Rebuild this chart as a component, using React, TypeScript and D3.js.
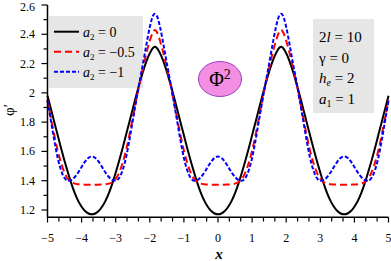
import React from "react";
import * as d3 from "d3";

const xs = [-5,-4.9,-4.8,-4.7,-4.6,-4.5,-4.4,-4.3,-4.2,-4.1,-4,-3.9,-3.8,-3.7,-3.6,-3.5,-3.4,-3.3,-3.2,-3.1,-3,-2.9,-2.8,-2.7,-2.6,-2.5,-2.4,-2.3,-2.2,-2.1,-2,-1.9,-1.85,-1.8,-1.7,-1.6,-1.5,-1.4,-1.3,-1.2,-1.1,-1,-0.9,-0.8,-0.7,-0.6,-0.5,-0.4,-0.3,-0.2,-0.1,0,0.1,0.2,0.3,0.4,0.5,0.6,0.7,0.8,0.9,1,1.1,1.2,1.3,1.4,1.5,1.6,1.7,1.8,1.85,1.9,2,2.1,2.2,2.3,2.4,2.5,2.6,2.7,2.8,2.9,3,3.1,3.2,3.3,3.4,3.5,3.6,3.7,3.8,3.9,4,4.1,4.2,4.3,4.4,4.5,4.6,4.7,4.8,4.9,5];

const black = [1.98,1.89,1.80,1.71,1.62,1.535,1.455,1.38,1.315,1.262,1.222,1.193,1.176,1.17,
1.176,1.193,1.222,1.262,1.315,1.38,1.455,1.535,1.62,1.71,1.80,1.89,1.98,2.065,2.145,2.215,2.27,2.308,
2.315,
2.308,2.27,2.215,2.145,2.065,1.98,1.89,1.80,1.71,1.62,1.535,1.455,1.38,1.315,1.262,1.222,1.193,1.176,
1.17,
1.176,1.193,1.222,1.262,1.315,1.38,1.455,1.535,1.62,1.71,1.80,1.89,1.98,2.065,2.145,2.215,2.27,2.308,
2.315,
2.308,2.27,2.215,2.145,2.065,1.98,1.89,1.80,1.71,1.62,1.535,1.455,1.38,1.315,1.262,1.222,1.193,1.176,
1.17,
1.176,1.193,1.222,1.262,1.315,1.38,1.455,1.535,1.62,1.71,1.80,1.89,1.98];

const red = [1.95,1.83,1.71,1.605,1.52,1.455,1.412,1.39,1.38,1.376,1.374,1.373,1.372,1.372,
1.372,1.373,1.374,1.376,1.38,1.39,1.412,1.455,1.52,1.605,1.71,1.83,1.95,2.065,2.17,2.27,2.355,2.418,
2.43,
2.418,2.355,2.27,2.17,2.065,1.95,1.83,1.71,1.605,1.52,1.455,1.412,1.39,1.38,1.376,1.374,1.373,1.372,
1.372,
1.372,1.373,1.374,1.376,1.38,1.39,1.412,1.455,1.52,1.605,1.71,1.83,1.95,2.065,2.17,2.27,2.355,2.418,
2.43,
2.418,2.355,2.27,2.17,2.065,1.95,1.83,1.71,1.605,1.52,1.455,1.412,1.39,1.38,1.376,1.374,1.373,1.372,
1.372,
1.372,1.373,1.374,1.376,1.38,1.39,1.412,1.455,1.52,1.605,1.71,1.83,1.95];

const blue = [1.945,1.81,1.675,1.555,1.47,1.418,1.40,1.405,1.425,1.456,1.494,1.53,1.556,1.565,
1.556,1.53,1.494,1.456,1.425,1.405,1.40,1.418,1.47,1.555,1.675,1.81,1.945,2.075,2.20,2.33,2.45,2.53,
2.54,
2.53,2.45,2.33,2.20,2.075,1.945,1.81,1.675,1.555,1.47,1.418,1.40,1.405,1.425,1.456,1.494,1.53,1.556,
1.565,
1.556,1.53,1.494,1.456,1.425,1.405,1.40,1.418,1.47,1.555,1.675,1.81,1.945,2.075,2.20,2.33,2.45,2.53,
2.54,
2.53,2.45,2.33,2.20,2.075,1.945,1.81,1.675,1.555,1.47,1.418,1.40,1.405,1.425,1.456,1.494,1.53,1.556,
1.565,
1.556,1.53,1.494,1.456,1.425,1.405,1.40,1.418,1.47,1.555,1.675,1.81,1.945];

const xMajor = [-5,-4,-3,-2,-1,0,1,2,3,4,5];
const yMajor = [1.2,1.4,1.6,1.8,2,2.2,2.4,2.6];
const yMinor = [1.3,1.5,1.7,1.9,2.1,2.3,2.5];

const seriesNames = ["0", "\u22120.5", "\u22121"];
const paramLabels = ["2l = 10", "\u03b3 = 0", "he = 2", "a1 = 1"];

const FONT = "'Liberation Serif', 'Times New Roman', serif";

export default function App() {
  const x = d3.scaleLinear().domain([-5, 5]).range([47.5, 388.5]);
  const y = d3.scaleLinear().domain([1.15, 2.6]).range([217.3, 5]);

  const mk = (vals: number[]) =>
    d3.line<number>().x((_, i) => x(xs[i])).y((v) => y(v)).curve(d3.curveMonotoneX)(vals) || "";

  const series = [
    { vals: black, color: "#000000", dash: "none" },
    { vals: red, color: "#ff0000", dash: "7,4" },
    { vals: blue, color: "#0000ff", dash: "4,2" },
  ];

  const xMinor: number[] = [];
  for (let k = -5; k < 5; k++) {
    xMinor.push(k + 1 / 3, k + 2 / 3);
  }

  const fmtX = (v: number) => (v < 0 ? "\u2212" + Math.abs(v) : String(v));
  const fmtY = (v: number) => (v === 2 ? "2" : v.toFixed(1));

  return (
    <svg width={391} height={261} style={{ position: "absolute", left: 0, top: 0, background: "#fff" }} fontFamily={FONT}>
      {/* legend box */}
      <rect x={49} y={16} width={94} height={72} fill="#e6e6e6" />
      {/* params box */}
      <rect x={313} y={19} width={61} height={94} fill="#e6e6e6" />

      {/* curves */}
      {series.map((s, i) => (
        <path key={i} d={mk(s.vals)} fill="none" stroke={s.color} strokeWidth={2} strokeDasharray={s.dash} />
      ))}

      {/* axes */}
      <line x1={x(-5)} x2={x(5)} y1={217.3} y2={217.3} stroke="#000" strokeWidth={1.5} />
      <line x1={x(-5)} x2={x(-5)} y1={y(2.6)} y2={217.3} stroke="#000" strokeWidth={1.5} />
      {xMajor.map((v) => (
        <g key={"xm" + v}>
          <line x1={x(v)} x2={x(v)} y1={217.3} y2={222.5} stroke="#000" strokeWidth={1.2} />
          <text x={x(v)} y={242} fontSize={12} textAnchor="middle">{fmtX(v)}</text>
        </g>
      ))}
      {xMinor.map((v, i) => (
        <line key={"xn" + i} x1={x(v)} x2={x(v)} y1={217.3} y2={221.5} stroke="#000" strokeWidth={1.2} />
      ))}
      {yMajor.map((v) => (
        <g key={"ym" + v}>
          <line x1={x(-5) - 6} x2={x(-5)} y1={y(v)} y2={y(v)} stroke="#000" strokeWidth={1.2} />
          <text x={35} y={Math.max(y(v) + 4, 11)} fontSize={12} textAnchor="end">{fmtY(v)}</text>
        </g>
      ))}
      {yMinor.map((v) => (
        <line key={"yn" + v} x1={x(-5) - 4} x2={x(-5)} y1={y(v)} y2={y(v)} stroke="#000" strokeWidth={1.2} />
      ))}

      {/* axis labels */}
      <text x={219} y={259} fontSize={15} fontStyle="italic" fontWeight="bold" textAnchor="middle">x</text>
      <text transform="translate(14,110) rotate(-90)" fontSize={15} textAnchor="middle">{"\u03c6\u2032"}</text>

      {/* legend */}
      {series.map((s, i) => {
        const ly = 31.7 + i * 20;
        return (
          <g key={"lg" + i}>
            <line x1={54} x2={79} y1={ly} y2={ly} stroke={s.color} strokeWidth={2} strokeDasharray={s.dash} />
            <text x={83} y={ly + 5} fontSize={14}>
              <tspan fontStyle="italic">a</tspan>
              <tspan fontSize={9} dy={3}>2</tspan>
              <tspan dy={-3}>{" = " + seriesNames[i]}</tspan>
            </text>
          </g>
        );
      })}

      {/* parameters */}
      <text x={319} y={42} fontSize={15}>
        <tspan>2</tspan><tspan fontStyle="italic">l</tspan><tspan>{" = 10"}</tspan>
      </text>
      <text x={319} y={62.5} fontSize={15}>{paramLabels[1]}</text>
      <text x={319} y={83} fontSize={15}>
        <tspan fontStyle="italic">h</tspan>
        <tspan fontStyle="italic" fontSize={10} dy={3}>e</tspan>
        <tspan dy={-3}>{" = 2"}</tspan>
      </text>
      <text x={319} y={103.5} fontSize={15}>
        <tspan fontStyle="italic">a</tspan>
        <tspan fontSize={10} dy={3}>1</tspan>
        <tspan dy={-3}>{" = 1"}</tspan>
      </text>

      {/* Phi^2 badge */}
      <ellipse cx={220} cy={79} rx={21.5} ry={17.5} fill="#f28fe2" stroke="#a040c8" strokeWidth={1} />
      <text x={220} y={86} fontSize={20} textAnchor="middle">
        <tspan>{"\u03a6"}</tspan>
        <tspan fontSize={14} dy={-7}>2</tspan>
      </text>
    </svg>
  );
}
